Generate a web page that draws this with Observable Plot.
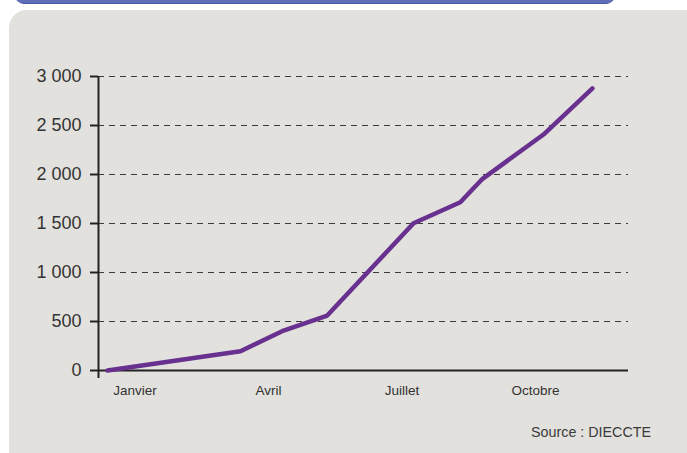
<!DOCTYPE html>
<html lang="fr">
<head>
<meta charset="utf-8">
<script src="https://cdn.jsdelivr.net/npm/d3@7"></script>
<script src="https://cdn.jsdelivr.net/npm/@observablehq/plot@0.6"></script>
<style>
  html, body { margin: 0; padding: 0; background: #ffffff; }
  #page { position: relative; width: 687px; height: 453px; overflow: hidden; font-family: "Liberation Sans", Arial, sans-serif; }
  #bar { position: absolute; left: 15px; top: -10px; width: 600px; height: 13px; background: #5f6eb8; border-bottom: 1px solid #4b57a0; border-radius: 0 0 9px 9px; }
  #panel { position: absolute; left: 9px; top: 10px; width: 700px; height: 470px; background: #e2e1dd; border-radius: 18px; }
  #chart { position: absolute; left: 0; top: 0; }
  #source { position: absolute; right: 36px; top: 424px; font-size: 14.3px; color: #3a3a3a; }
</style>
</head>
<body>
<div id="page">
  <div id="bar"></div>
  <div id="panel"></div>
  <div id="chart"></div>
  <div id="source">Source : DIECCTE</div>
</div>
<script>
// Position in months from 1 January (0 = début janvier)
const mois = [0, 2.99, 3.96, 4.94, 6.88, 7.93, 8.43, 9.8, 10.9];
// Cumulative values
const valeurs = [0, 197, 408, 561, 1503, 1717, 1956, 2408, 2878];
// x tick labels and their positions
const tickLabels = ["Janvier", "Avril", "Juillet", "Octobre"];
const tickPos = [0.62, 3.62, 6.62, 9.62];
const yTicks = [0, 500, 1000, 1500, 2000, 2500, 3000];
const xDomain = [-0.2, 11.71];

const data = mois.map((m, i) => ({mois: m, valeur: valeurs[i]}));
const fmt = d => d3.format(",")(d).replace(/,/g, " ");

const chart = Plot.plot({
  width: 687,
  height: 453,
  marginLeft: 98,
  marginRight: 59,
  marginTop: 76,
  marginBottom: 83,
  style: {background: "transparent", fontFamily: "'Liberation Sans', Arial, sans-serif", color: "#333"},
  x: {domain: xDomain, label: null},
  y: {domain: [0, 3000], label: null},
  marks: [
    Plot.ruleY(yTicks.filter(d => d > 0), {stroke: "#3a3a3a", strokeWidth: 1, strokeDasharray: "6,5"}),
    Plot.axisY({ticks: yTicks, label: null, tickSize: 8, tickPadding: 9, tickFormat: fmt, fontSize: 18, stroke: "#222", strokeWidth: 2, strokeOpacity: 1, fill: "#333"}),
    Plot.axisX({ticks: tickPos, label: null, tickSize: 0, tickPadding: 15, tickFormat: (d, i) => tickLabels[i], fontSize: 13.5, fill: "#333"}),
    Plot.ruleY([0], {stroke: "#222", strokeWidth: 2}),
    Plot.ruleX([xDomain[0]], {stroke: "#222", strokeWidth: 2, insetBottom: -8}),
    Plot.line(data, {x: "mois", y: "valeur", stroke: "#68308f", strokeWidth: 4.5, strokeLinecap: "round", strokeLinejoin: "round"})
  ]
});
document.getElementById("chart").appendChild(chart);
</script>
</body>
</html>
